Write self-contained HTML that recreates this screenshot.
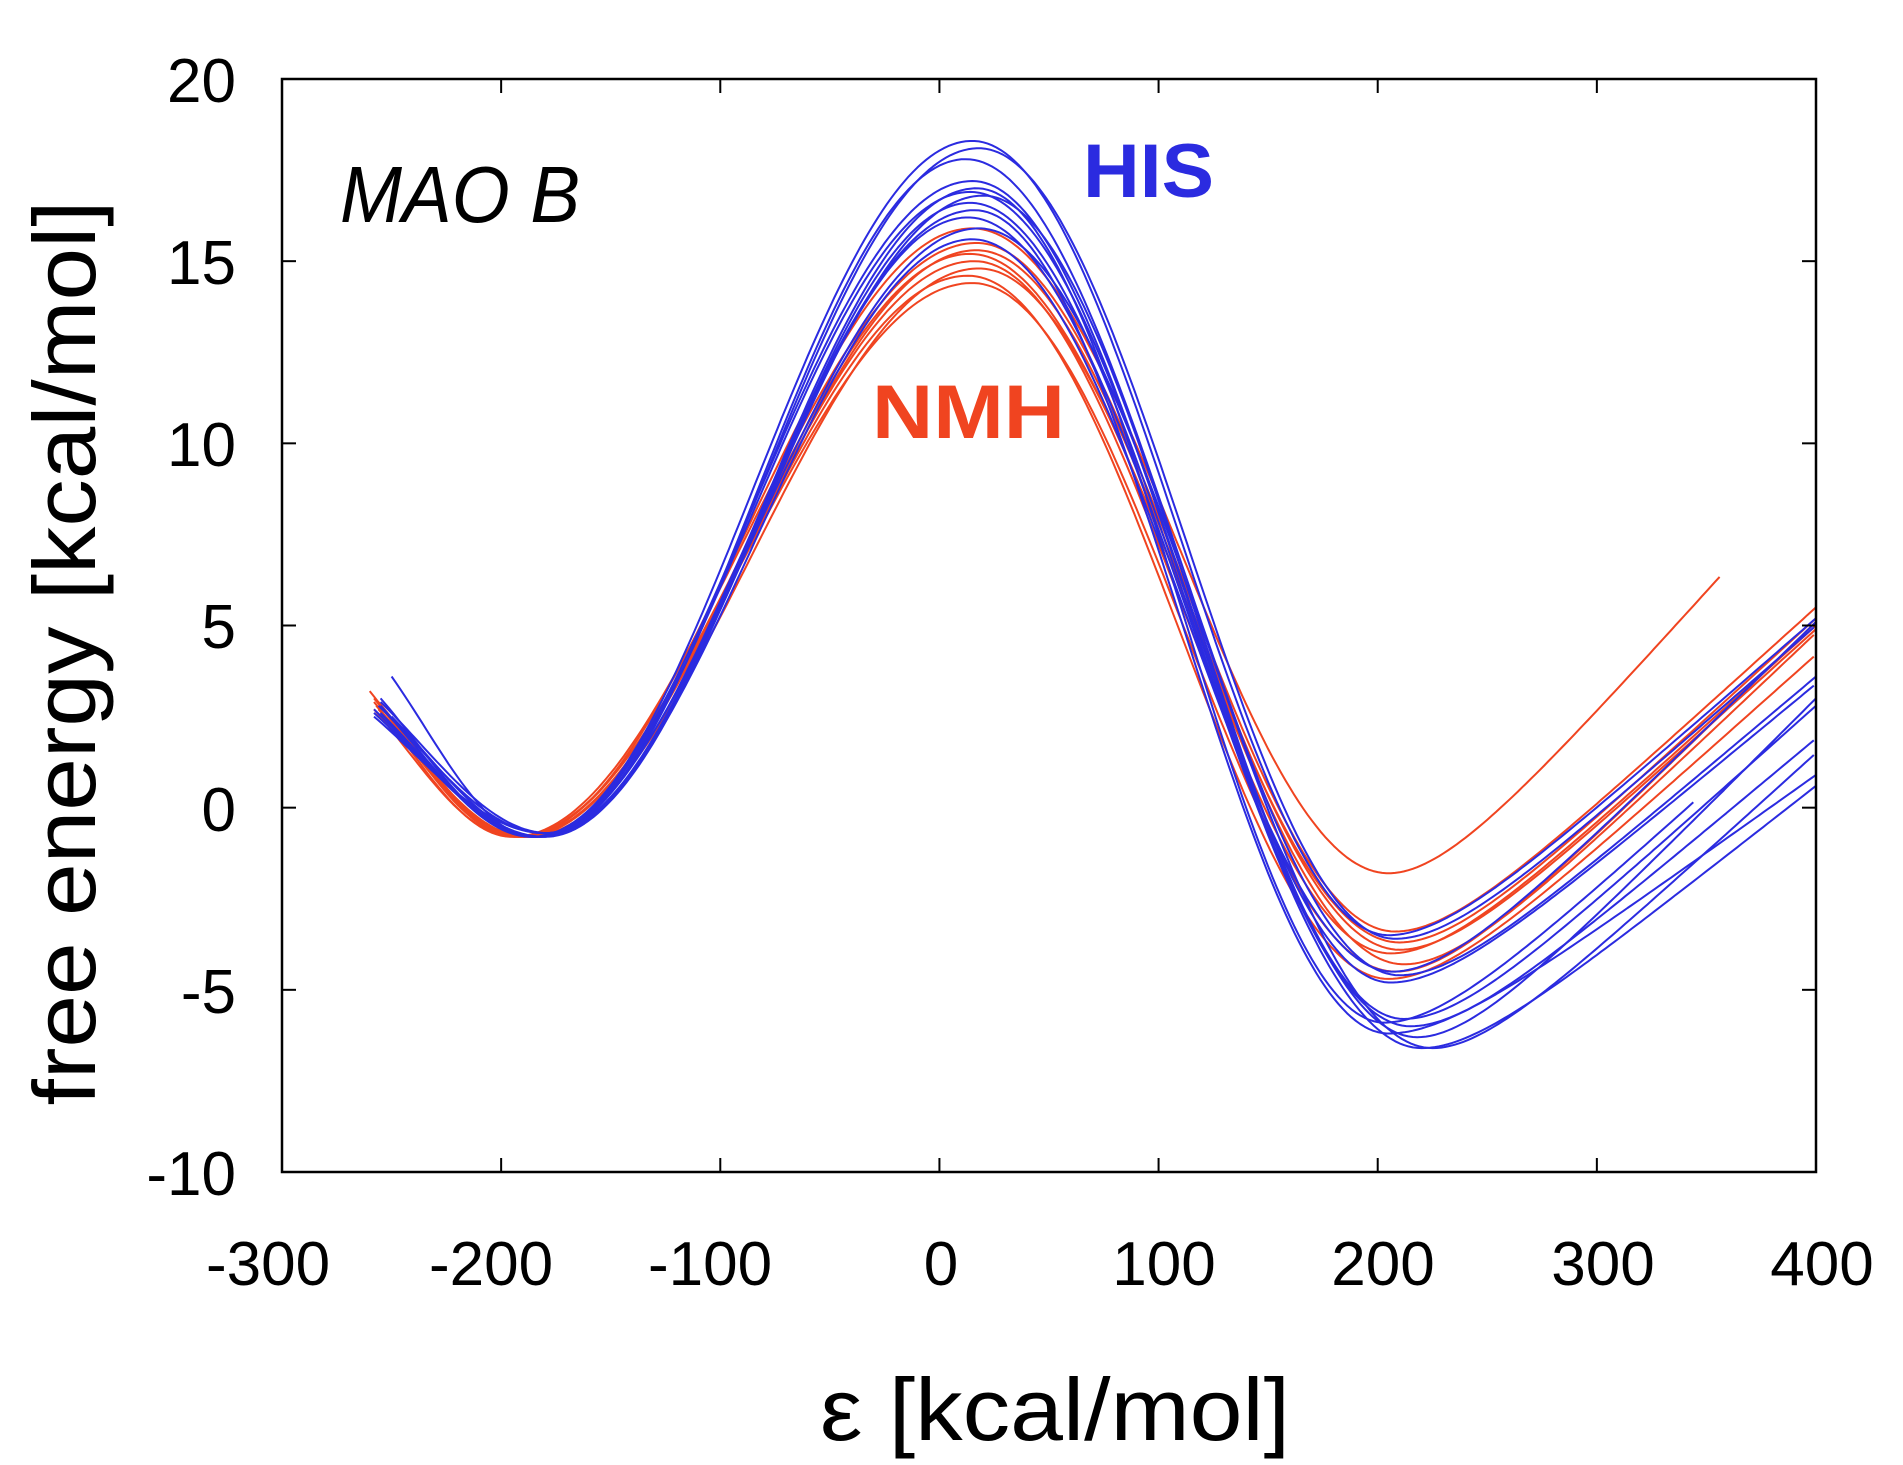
<!DOCTYPE html>
<html><head><meta charset="utf-8"><style>
html,body{margin:0;padding:0;background:#fff;}
svg{display:block;}
text{font-family:"Liberation Sans",sans-serif;fill:#000;}
</style></head><body>
<svg id="s" width="1903" height="1465" viewBox="0 0 1903 1465" xmlns="http://www.w3.org/2000/svg">
<rect x="0" y="0" width="1903" height="1465" fill="#fff"/>
<g id="curves" fill="none" stroke-width="2" stroke-linejoin="round"></g>
<rect x="282" y="79" width="1534" height="1093" fill="none" stroke="#000" stroke-width="2.5"/>
<g id="ticks" stroke="#000" stroke-width="2"></g>
<g font-size="62" text-anchor="end">
<text x="236" y="102">20</text>
<text x="236" y="284">15</text>
<text x="236" y="466">10</text>
<text x="236" y="648">5</text>
<text x="236" y="831">0</text>
<text x="236" y="1013">-5</text>
<text x="236" y="1195">-10</text>
</g>
<g font-size="62" text-anchor="middle">
<text x="268" y="1285">-300</text>
<text x="491" y="1285">-200</text>
<text x="710" y="1285">-100</text>
<text x="941" y="1285">0</text>
<text x="1164" y="1285">100</text>
<text x="1383" y="1285">200</text>
<text x="1603" y="1285">300</text>
<text x="1822" y="1285">400</text>
</g>
<text x="1055" y="1440" font-size="88" text-anchor="middle" textLength="470" lengthAdjust="spacingAndGlyphs">ε [kcal/mol]</text>
<text transform="translate(95,653) rotate(-90)" x="0" y="0" font-size="88" text-anchor="middle" textLength="905" lengthAdjust="spacingAndGlyphs">free energy [kcal/mol]</text>
<text x="340" y="222" font-size="80" font-style="italic" textLength="240" lengthAdjust="spacingAndGlyphs">MAO B</text>
<text x="1083" y="197" font-size="76" font-weight="bold" style="fill:#2b2be0" textLength="131" lengthAdjust="spacingAndGlyphs">HIS</text>
<text x="872" y="438" font-size="76" font-weight="bold" style="fill:#f04420" textLength="193" lengthAdjust="spacingAndGlyphs">NMH</text>
</svg>
<script>
function X(v){return 282+(v+300)*1534/700;}
function Y(v){return 79+(20-v)*1093/30;}
var tk=document.getElementById('ticks'),h='';
for(var i=-200;i<=300;i+=100){var x=X(i);h+='<line x1="'+x+'" y1="1172" x2="'+x+'" y2="1158"/><line x1="'+x+'" y1="79" x2="'+x+'" y2="93"/>';}
for(var v=-5;v<=15;v+=5){var y=Y(v);h+='<line x1="282" y1="'+y+'" x2="296" y2="'+y+'"/><line x1="1816" y1="'+y+'" x2="1802" y2="'+y+'"/>';}
tk.innerHTML=h;
var blue=[
[-250,3.6,-185,-0.8,15,18.3,205,-3.5,400,5.2],
[-255,2.6,-183,-0.8,18,18.1,208,-3.6,400,5.0],
[-258,2.5,-180,-0.7,12,17.8,210,-4.6,400,3.6],
[-255,3.0,-186,-0.8,15,17.2,206,-4.8,400,3.4],
[-258,2.7,-182,-0.8,20,16.8,212,-5.8,400,2.8],
[-255,2.9,-178,-0.7,14,16.6,215,-6.0,400,1.9],
[-252,2.4,-184,-0.8,16,16.4,205,-6.2,400,0.9],
[-258,2.6,-180,-0.8,13,16.2,220,-6.6,400,0.6],
[-255,2.8,-186,-0.8,18,15.9,225,-6.6,400,1.5],
[-250,2.5,-182,-0.8,15,15.6,207,-4.5,400,5.1],
[-256,2.8,-180,-0.7,17,17.0,203,-5.9,345,0.2],
[-254,2.7,-185,-0.8,14,16.9,218,-6.3,400,3.0]
];
var red=[
[-260,3.2,-192,-0.8,15,15.9,205,-1.8,357,6.4],
[-258,2.9,-195,-0.8,17,15.5,208,-3.4,400,5.5],
[-256,2.7,-190,-0.8,14,15.2,210,-3.7,400,5.2],
[-258,3.0,-193,-0.8,16,15.0,206,-4.0,400,5.0],
[-255,2.6,-188,-0.8,18,14.8,212,-4.3,400,4.8],
[-257,2.8,-191,-0.8,13,14.6,205,-4.7,400,4.2],
[-258,2.7,-194,-0.8,15,14.4,208,-4.5,400,5.1],
[-256,2.9,-190,-0.8,17,15.3,210,-3.9,400,4.9]
];
function F(t){var k=0.15;return t-k*(1-Math.exp(-t/k));}
function path(p){
 var pts=[];
 var x0=p[0],y0=p[1],x1=p[2],y1=p[3],x2=p[4],y2=p[5],x3=p[6],y3=p[7],x4=p[8],y4=p[9];
 for(var x=x0;x<=x4;x+=2){
  var y;
  if(x<x1){var t=(x-x0)/(x1-x0);var T=0.35+0.65*t;var f=(1-Math.cos(Math.PI*T))/2,f0=(1-Math.cos(Math.PI*0.35))/2;y=y0+(y1-y0)*(f-f0)/(1-f0);}
  else if(x<x2){var t=(x-x1)/(x2-x1);y=y1+(y2-y1)*(1-Math.cos(Math.PI*t))/2;}
  else if(x<x3){var t=(x-x2)/(x3-x2);y=y2+(y3-y2)*(1-Math.cos(Math.PI*t))/2;}
  else {var t=(x-x3)/(400-x3);var te=(x4-x3)/(400-x3);y=y3+(y4-y3)*F(t)/F(te);}
  pts.push(X(x).toFixed(1)+','+Y(y).toFixed(1));
 }
 return 'M'+pts.join('L');
}
var g=document.getElementById('curves'),s='';
red.forEach(function(p){s+='<path stroke="#f04420" d="'+path(p)+'"/>';});
blue.forEach(function(p){s+='<path stroke="#2b2be0" d="'+path(p)+'"/>';});
g.innerHTML=s;
</script>
</body></html>
